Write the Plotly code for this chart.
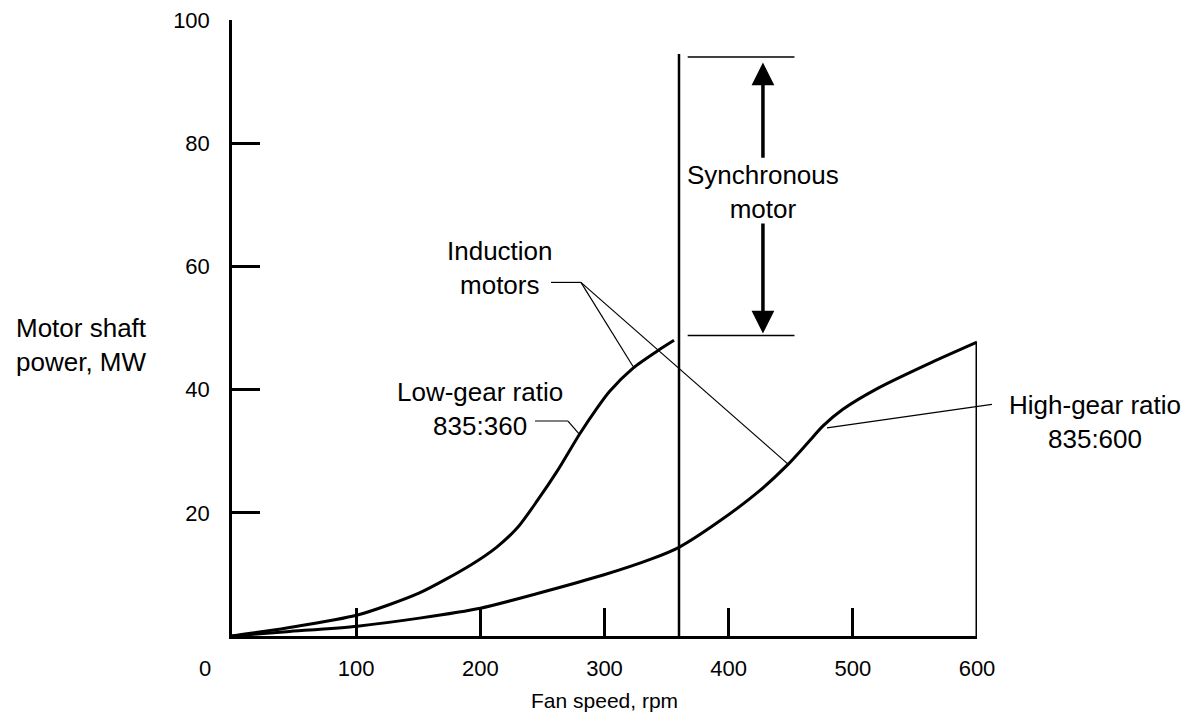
import plotly.graph_objects as go

# ---- data ----
low_rpm = [0, 44, 101, 151, 192, 213, 230, 246, 262, 280, 294, 304, 323, 342, 356]
low_mw = [0, 1.3, 3.4, 7.0, 11.5, 14.4, 17.6, 22.0, 26.8, 32.8, 37.0, 39.7, 43.5, 46.2, 48.0]

high_rpm = [0, 44, 101, 151, 200, 246, 299, 339, 360, 393, 425, 448, 463, 476, 492, 520, 560, 600]
high_mw = [0, 0.7, 1.6, 2.9, 4.5, 6.9, 9.9, 12.6, 14.4, 18.7, 23.6, 27.9, 31.2, 34.1, 36.8, 40.2, 44.1, 47.7]

high_end_rpm = [600, 600]
high_end_mw = [47.7, 0]

sync_rpm = [360, 360]
sync_mw = [0, 94.5]

# synchronous-motor range (MW)
sync_range_mw = [48.8, 94.0]
sync_bracket_rpm = [367, 453]
sync_arrow_rpm = 427.6

x_ticks = [0, 100, 200, 300, 400, 500, 600]
x_ticktext = ["", "100", "200", "300", "400", "500", "600"]
y_ticks = [0, 20, 40, 60, 80, 100]
y_ticktext = ["", "20", "40", "60", "80", "100"]

# leader lines (rpm, MW)
leader_low = [(244, 34.9), (270.6, 34.9), (279.5, 32.8)]
leader_ind_a = [(256.9, 57.4), (281, 57.4), (322.9, 43.8)]
leader_ind_b = [(281, 57.4), (447.8, 27.9)]
leader_high = [(479.2, 33.8), (612, 37.6)]

FONT = "Liberation Sans, Arial, Helvetica, sans-serif"
XMAX, YMAX = 600, 100


def px(r):
    return r / XMAX


def py(v):
    return v / YMAX


fig = go.Figure()

fig.add_trace(go.Scatter(x=low_rpm, y=low_mw, mode="lines",
                         line=dict(color="black", width=3, shape="spline", smoothing=0.7),
                         hoverinfo="skip", showlegend=False))
fig.add_trace(go.Scatter(x=high_rpm, y=high_mw, mode="lines",
                         line=dict(color="black", width=3, shape="spline", smoothing=0.7),
                         hoverinfo="skip", showlegend=False))
fig.add_trace(go.Scatter(x=high_end_rpm, y=high_end_mw, mode="lines",
                         line=dict(color="black", width=3),
                         hoverinfo="skip", showlegend=False))
fig.add_trace(go.Scatter(x=sync_rpm, y=sync_mw, mode="lines",
                         line=dict(color="black", width=2.5),
                         hoverinfo="skip", showlegend=False))

shapes = []


def seg(p, q, w=1.2):
    return dict(type="line", xref="paper", yref="paper",
                x0=px(p[0]), y0=py(p[1]), x1=px(q[0]), y1=py(q[1]),
                line=dict(color="black", width=w), layer="above")


def poly(pts, w=1.2):
    return [seg(pts[i], pts[i + 1], w) for i in range(len(pts) - 1)]


shapes += poly(leader_low)
shapes += poly(leader_ind_a)
shapes += poly(leader_ind_b)
shapes += poly(leader_high)
for v in sync_range_mw:
    shapes.append(seg((sync_bracket_rpm[0], v), (sync_bracket_rpm[1], v), 1.5))

annotations = []
TF = dict(family=FONT, size=26, color="black")
SF = dict(family=FONT, size=22, color="black")


def note(r, v, text, font, **kw):
    d = dict(x=px(r), y=py(v), xref="paper", yref="paper", text=text,
             showarrow=False, font=font, xanchor="center", yanchor="middle")
    d.update(kw)
    annotations.append(d)


note(sync_arrow_rpm, 72.0, "Synchronous<br>motor", TF, align="center")
note(215.8, 59.8, "Induction<br>motors", TF, align="center")
note(199.7, 36.8, "Low-gear ratio<br>835:360", TF, align="center")
note(695, 34.8, "High-gear ratio<br>835:600", TF, align="center")
note(-175.6, 47.2, "Motor shaft<br>power, MW", TF, align="left", xanchor="left")
note(300, -10.4, "Fan speed, rpm", dict(family=FONT, size=21, color="black"))
note(-21.7, -5.2, "0", SF)

# arrows of the synchronous-motor range
for tip, tail in [(93.1, 77.4), (49.1, 67.2)]:
    annotations.append(dict(x=sync_arrow_rpm, y=tip, ax=sync_arrow_rpm, ay=tail,
                            xref="x", yref="y", axref="x", ayref="y", text="",
                            showarrow=True, arrowhead=2, arrowsize=1.3, arrowwidth=3.5,
                            arrowcolor="black", standoff=0, startstandoff=0))

fig.update_layout(
    width=1195, height=721,
    margin=dict(l=224, r=226, t=12, b=93),
    paper_bgcolor="white", plot_bgcolor="white",
    shapes=shapes, annotations=annotations,
    showlegend=False,
    font=dict(family=FONT, size=21, color="black"),
    xaxis=dict(range=[0, XMAX], showgrid=False, zeroline=False, automargin=False,
               showline=True, linecolor="black", linewidth=2.5,
               tickmode="array", tickvals=x_ticks, ticktext=x_ticktext,
               ticks="inside", ticklen=28, tickwidth=2.5, tickcolor="black",
               ticklabelstandoff=11, ticklabeloverflow="allow", tickfont=SF),
    yaxis=dict(range=[0, YMAX], showgrid=False, zeroline=False, automargin=False,
               showline=True, linecolor="black", linewidth=2.5,
               tickmode="array", tickvals=y_ticks, ticktext=y_ticktext,
               ticks="inside", ticklen=28, tickwidth=2.5, tickcolor="black",
               ticklabelstandoff=15, ticklabeloverflow="allow", tickfont=SF),
)

fig.write_html("out.html")
